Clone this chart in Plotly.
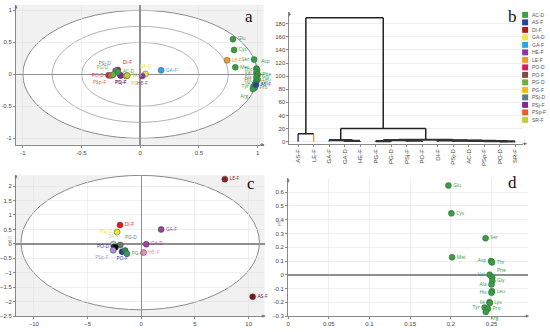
import plotly.graph_objects as go

# ---------------- data ----------------
# Panel a: loadings (amino acids) and samples
aa_names = ["Glu", "Cys", "Ser", "Met", "Asp", "Thr", "Val", "Phe", "Gly", "Ala",
            "Leu", "His", "Lys", "Ile", "Tyr", "Pro", "Arg"]
a_aa_x = [0.79, 0.80, 0.97, 0.81, 0.99, 0.995, 0.99, 1.0, 0.995, 0.99,
          1.0, 0.99, 0.985, 0.98, 0.965, 0.975, 0.96]
a_aa_y = [0.55, 0.38, 0.23, 0.11, 0.09, 0.07, 0.03, 0.0, -0.03, -0.05,
          -0.08, -0.10, -0.13, -0.15, -0.19, -0.21, -0.23]

a_smp_names = ["DI-F", "PSj-D", "PO-D", "PSp-F", "PG-D", "PO-F", "PSj-F", "AC-D", "PG-F", "SR-F",
               "GA-D", "HE-F", "GA-F", "LE-F", "AS-F"]
a_smp_x = [-0.19, -0.21, -0.27, -0.25, -0.23, -0.17, -0.165, -0.19, -0.12, -0.11,
           0.045, 0.017, 0.178, 0.74, 0.986]
a_smp_y = [0.067, 0.057, -0.015, -0.02, -0.005, -0.015, -0.02, 0.035, -0.026, -0.02,
           0.005, -0.026, 0.062, 0.22, -0.165]

# Panel b: dendrogram
leaves = ["AS-F", "LE-F", "GA-F", "GA-D", "HE-F", "PG-F", "PG-D", "PSj-F", "PO-F",
          "DI-F", "PSj-D", "AC-D", "PSp-F", "PO-D", "SR-F"]
merges = [(13, 14, 0.4), (12, 15, 0.8), (11, 16, 1.2), (10, 17, 1.8), (9, 18, 2.2),
          (5, 6, 0.9), (7, 8, 1.6), (20, 21, 2.4), (22, 19, 3.0),
          (3, 4, 1.2), (2, 24, 2.4), (25, 23, 20.3), (0, 1, 12.2), (27, 26, 189.0)]
legend_names = ["AC-D", "AS-F", "DI-F", "GA-D", "GA-F", "HE-F", "LE-F", "PO-D", "PO-F",
                "PG-D", "PG-F", "PSj-D", "PSj-F", "PSp-F", "SR-F"]
b_ticks = [0, 20, 40, 60, 80, 100, 120, 140, 160, 180]

# Panel c: scores
c_names = ["LE-F", "AS-F", "DI-F", "PSj-D", "GA-F", "GA-D", "HE-F", "SR-F", "PG-D",
           "PO-D", "AC-D", "PSp-F", "PO-F", "PSj-F", "PG-F"]
c_x = [7.78, 10.37, -1.98, -2.25, 1.85, 0.46, 0.22, -2.6, -1.95, -2.55, -2.4, -2.62, -1.79, -1.5, -1.33]
c_y = [2.24, -1.83, 0.65, 0.41, 0.50, -0.01, -0.30, -0.01, -0.04, -0.10, -0.12, -0.22, -0.27, -0.23, -0.34]

# Panel d: amino acid loadings
d_x = [0.197, 0.2007, 0.2427, 0.2015, 0.2495, 0.2505, 0.2477, 0.2508, 0.2510, 0.2500,
       0.2505, 0.2500, 0.2475, 0.2480, 0.2415, 0.2455, 0.2430]
d_y = [0.648, 0.446, 0.266, 0.127, 0.10, 0.09, 0.0, -0.02, -0.043, -0.07,
       -0.12, -0.13, -0.20, -0.205, -0.238, -0.247, -0.27]

# ---------------- styles ----------------
W, H = 550, 332
legend_colors = {"AC-D": "#3e9f45", "AS-F": "#2e3f96", "DI-F": "#b2191f", "GA-D": "#f2e34a",
                 "GA-F": "#2aa5df", "HE-F": "#8b3a9c", "LE-F": "#f29a22", "PO-D": "#d81b5e",
                 "PO-F": "#7a4c3c", "PG-D": "#71ad3f", "PG-F": "#f6b912", "PSj-D": "#5b7b8b",
                 "PSj-F": "#7b2a8c", "PSp-F": "#ec5a28", "SR-F": "#c3cd3c"}
c_colors = {"LE-F": "#8b2318", "AS-F": "#761818", "DI-F": "#e8141a", "PSj-D": "#ede71e",
            "GA-F": "#a040a0", "GA-D": "#a040a0", "HE-F": "#f08cc0", "SR-F": "#b2dca2",
            "PG-D": "#5f7f6c", "PO-D": "#2a2a8a", "AC-D": "#000000", "PSp-F": "#a898d2",
            "PO-F": "#1a3aa8", "PSj-F": "#2a8a4a", "PG-F": "#3a9a5a"}
green = "#3d9a47"
tickfont = dict(family="Liberation Sans, Arial", size=6, color="#444")


def px_x(p):
    return p / W


def px_y(p):
    return 1 - p / H


def ax(zero=False, grid=True, **kw):
    d = dict(showline=True, linecolor="#888", linewidth=1, ticks="outside", ticklen=2,
             tickcolor="#888", tickfont=tickfont, gridcolor="#e4e4e4", gridwidth=0.6,
             showgrid=grid, zeroline=zero, zerolinecolor="#8f8f8f", zerolinewidth=1.5)
    d.update(kw)
    return d


fig = go.Figure()

# ---------------- panel a ----------------
a_pos = ["middle right", "middle right", "middle left", "middle right", "top right", "middle left",
         "middle left", "middle right", "middle right", "middle left", "middle right", "middle left",
         "middle right", "middle left", "middle left", "middle right", "bottom left"]
fig.add_trace(go.Scatter(x=a_aa_x, y=a_aa_y, mode="markers+text", text=aa_names,
                         textposition=a_pos, textfont=dict(size=5, color=green),
                         marker=dict(size=6, color=green, line=dict(width=0.5, color="#2a6a30")),
                         xaxis="x", yaxis="y", showlegend=False, cliponaxis=False))
a_spos = ["top right", "top left", "middle left", "bottom left", "top left", "bottom center",
          "bottom center", "middle right", "bottom right", "middle right", "top center", "bottom center",
          "middle right", "middle right", "middle right"]
fig.add_trace(go.Scatter(x=a_smp_x, y=a_smp_y, mode="markers+text", text=a_smp_names,
                         textposition=a_spos,
                         textfont=dict(size=5, color=[legend_colors[n] for n in a_smp_names]),
                         marker=dict(size=6, color=[legend_colors[n] for n in a_smp_names],
                                     line=dict(width=0.5, color="#555")),
                         xaxis="x", yaxis="y", showlegend=False, cliponaxis=False))

# ---------------- panel b (dendrogram) ----------------
pos = {i: float(i) for i in range(len(leaves))}
hgt = {i: 0.0 for i in range(len(leaves))}
leg_col = {0: legend_colors["AS-F"], 1: legend_colors["LE-F"], 2: legend_colors["GA-F"]}
for k, (p, q, h) in enumerate(merges):
    node = len(leaves) + k
    for c in (p, q):
        col = leg_col.get(c, "#222")
        fig.add_trace(go.Scatter(x=[pos[c], pos[c]], y=[hgt[c], h], mode="lines",
                                 line=dict(color=col, width=1.5 if h > 5 else 2),
                                 xaxis="x2", yaxis="y2", showlegend=False, hoverinfo="skip"))
    fig.add_trace(go.Scatter(x=[pos[p], pos[q]], y=[h, h], mode="lines",
                             line=dict(color="#222" if h > 5 else "#333", width=1.5 if h > 5 else 2.2),
                             xaxis="x2", yaxis="y2", showlegend=False, hoverinfo="skip"))
    pos[node] = (pos[p] + pos[q]) / 2
    hgt[node] = h

shapes = []
annotations = []
for i, n in enumerate(legend_names):
    yc = 15 + i * 7.57
    shapes.append(dict(type="rect", xref="paper", yref="paper",
                       x0=px_x(522), x1=px_x(528), y0=px_y(yc + 3), y1=px_y(yc - 3),
                       fillcolor=legend_colors[n], line=dict(width=0)))
    annotations.append(dict(x=px_x(530), y=px_y(yc), xref="paper", yref="paper", text=n,
                            showarrow=False, xanchor="left", yanchor="middle",
                            font=dict(family="Liberation Sans, Arial", size=5, color="#555")))

# ---------------- panel c ----------------
c_pos = ["middle right", "middle right", "middle right", "middle left", "middle right", "middle right",
         "middle right", "top center", "top right", "middle left", "middle right", "bottom left",
         "bottom center", "middle right", "middle right"]
c_text = list(c_names)
c_text[c_names.index("AC-D")] = ""
c_text[c_names.index("PSj-F")] = ""
fig.add_trace(go.Scatter(x=c_x, y=c_y, mode="markers+text", text=c_text, textposition=c_pos,
                         textfont=dict(size=5, color=[c_colors[n] for n in c_names]),
                         marker=dict(size=6, color=[c_colors[n] for n in c_names],
                                     line=dict(width=0.5, color="#444")),
                         xaxis="x3", yaxis="y3", showlegend=False, cliponaxis=False))

# ---------------- panel d ----------------
d_pos = ["middle right", "middle right", "middle right", "middle right", "middle left", "middle right",
         "middle left", "top right", "middle right", "middle left", "middle right", "middle left",
         "middle right", "middle left", "middle left", "middle right", "bottom right"]
fig.add_trace(go.Scatter(x=d_x, y=d_y, mode="markers+text", text=aa_names, textposition=d_pos,
                         textfont=dict(size=5, color=green),
                         marker=dict(size=6, color=green, line=dict(width=0.5, color="#2a6a30")),
                         xaxis="x4", yaxis="y4", showlegend=False, cliponaxis=False))

# ---------------- backgrounds / ellipses ----------------
for xr, yr, ell in (("x", "y", (-1, 1, -1, 1)), ("x3", "y3", (-11.2, 11.0, -2.28, 2.37))):
    shapes.append(dict(type="rect", xref=xr + " domain", yref=yr + " domain", x0=0, x1=1, y0=0, y1=1,
                       fillcolor="#f1f1f1", line=dict(width=0), layer="below"))
    shapes.append(dict(type="circle", xref=xr, yref=yr, x0=ell[0], x1=ell[1], y0=ell[2], y1=ell[3],
                       fillcolor="white", line=dict(color="#8a8a8a", width=1), layer="below"))
for r in (0.75, 0.5):
    shapes.append(dict(type="circle", xref="x", yref="y", x0=-r, x1=r, y0=-r, y1=r,
                       line=dict(color="#a8a8a8", width=0.9), layer="below"))

for t, xx, yy in (("a", 247, 17), ("b", 512, 17), ("c", 249, 185), ("d", 512, 184)):
    annotations.append(dict(x=px_x(xx), y=px_y(yy), xref="paper", yref="paper", text=t,
                            showarrow=False, xanchor="center", yanchor="middle",
                            font=dict(family="Liberation Serif, Times New Roman", size=17, color="#111")))

for (xa, ya) in ((13, 5), (288, 12), (13, 176), (286.7, 180)):
    annotations.append(dict(x=px_x(xa), y=px_y(ya), xref="paper", yref="paper", text="",
                            showarrow=True, ax=0, ay=6, arrowhead=2, arrowsize=0.8,
                            arrowwidth=0.8, arrowcolor="#777"))
for (xe, ye) in ((263, 146), (527, 145), (264, 319), (529, 319)):
    annotations.append(dict(x=px_x(xe), y=px_y(ye), xref="paper", yref="paper", text="",
                            showarrow=True, ax=-6, ay=0, arrowhead=2, arrowsize=0.8,
                            arrowwidth=0.8, arrowcolor="#777"))

annotations.append(dict(x=px_x(2), y=px_y(246), xref="paper", yref="paper", text="t[2]",
                        textangle=-90, showarrow=False, font=dict(size=4, color="#888")))
annotations.append(dict(x=px_x(277), y=px_y(230), xref="paper", yref="paper", text="p[2]",
                        textangle=-90, showarrow=False, font=dict(size=4, color="#888")))

fig.update_layout(
    width=W, height=H, margin=dict(l=0, r=0, t=0, b=0),
    paper_bgcolor="white", plot_bgcolor="white", hovermode=False,
    shapes=shapes, annotations=annotations,
    xaxis=ax(zero=True, domain=[px_x(13), px_x(262)], range=[-1.059, 1.051], anchor="y",
             tickvals=[-1, -0.5, 0, 0.5, 1], ticktext=["-1", "-0.5", "0", "0.5", "1"]),
    yaxis=ax(zero=True, domain=[px_y(146), px_y(5)], range=[-1.099, 1.084], anchor="x",
             tickvals=[-1, -0.5, 0, 0.5, 1], ticktext=["-1", "-0.5", "0", "0.5", "1"]),
    xaxis2=ax(grid=False, domain=[px_x(288), px_x(523)], range=[-0.56, 14.52], anchor="y2",
              tickvals=list(range(len(leaves))), ticktext=leaves, tickangle=-90),
    yaxis2=ax(domain=[px_y(145), px_y(12)], range=[-3, 198], anchor="x2", tickvals=b_ticks),
    xaxis3=ax(zero=True, domain=[px_x(13), px_x(263)], range=[-11.67, 11.48], anchor="y3",
              tickvals=[-10, -5, 0, 5, 10]),
    yaxis3=ax(zero=True, domain=[px_y(319), px_y(176.7)], range=[-2.5, 2.38], anchor="x3",
              tickvals=[-2.5, -2, -1.5, -1, -0.5, 0, 0.5, 1, 1.5, 2]),
    xaxis4=ax(domain=[px_x(286.7), px_x(528)], range=[0, 0.295], anchor="y4",
              tickvals=[0, 0.05, 0.1, 0.15, 0.2, 0.25],
              ticktext=["0", "0.05", "0.1", "0.15", "0.2", "0.25"]),
    yaxis4=ax(zero=True, domain=[px_y(319), px_y(180)], range=[-0.3, 0.70], anchor="x4",
              tickvals=[-0.3, -0.2, -0.1, 0, 0.1, 0.2, 0.3, 0.4, 0.5, 0.6],
              ticktext=["-0.3", "-0.2", "-0.1", "0", "0.1", "0.2", "0.3", "0.4", "0.5", "0.6"]),
)

fig.write_html("out.html", config={"displayModeBar": False, "staticPlot": True},
               post_script="document.body.style.margin='0';document.body.style.overflow='hidden';")
